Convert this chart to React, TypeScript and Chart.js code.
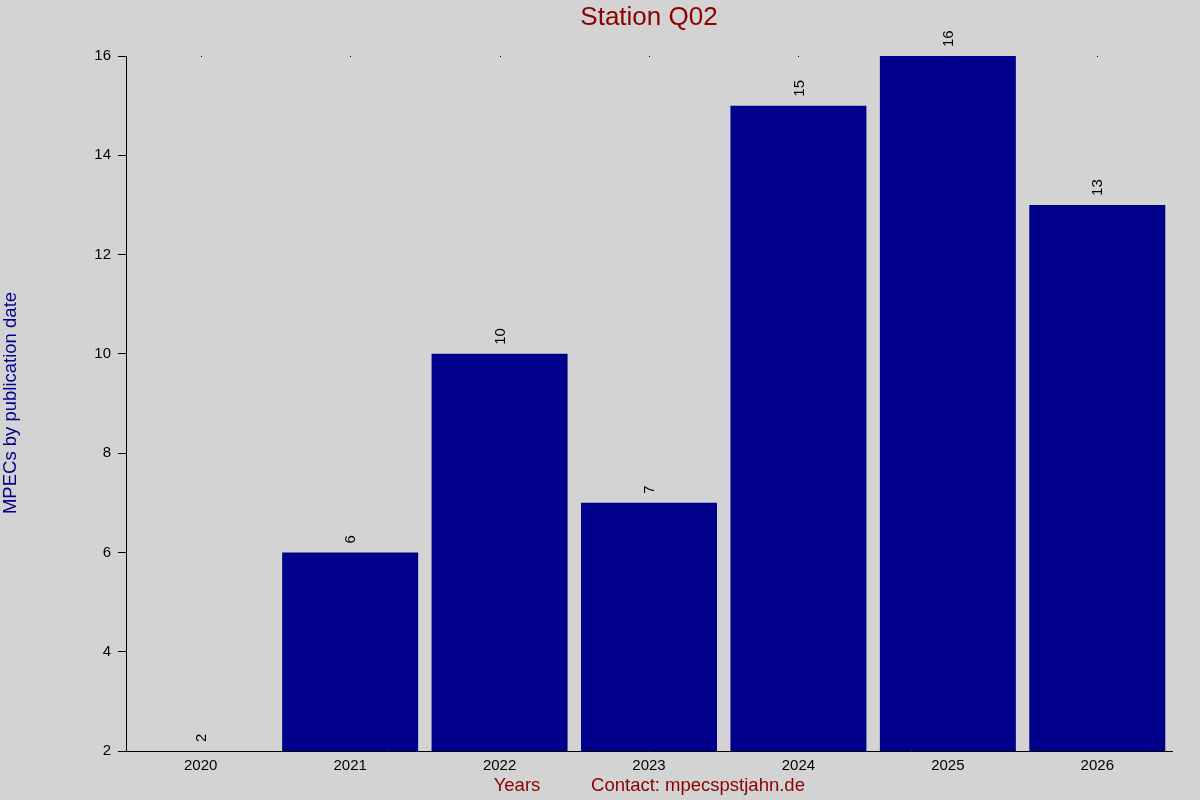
import { useEffect, useRef } from "react";
import { Chart, registerables } from "chart.js";

Chart.register(...registerables);

// values
const years = ["2020", "2021", "2022", "2023", "2024", "2025", "2026"];
const mpecCounts = [2, 6, 10, 7, 15, 16, 13];
const yTicks = [2, 4, 6, 8, 10, 12, 14, 16];

const FONT = "'Liberation Sans', Arial, sans-serif";

// text around the plot and labels over the bars
const decorPlugin = {
  id: "decor",
  afterDraw(chart: Chart) {
    const { ctx, chartArea } = chart;
    const x = chart.scales.x;
    const meta = chart.getDatasetMeta(0);
    const mid = (chartArea.left + chartArea.right) / 2;
    ctx.save();

    // small dots on top edge
    ctx.fillStyle = "#000";
    years.forEach((_, i) => {
      const px = Math.round(x.getPixelForTick(i));
      ctx.fillRect(px, chartArea.top, 1, 1);
    });

    // value labels, rotated
    ctx.font = `15px ${FONT}`;
    ctx.fillStyle = "#000";
    ctx.textAlign = "left";
    ctx.textBaseline = "middle";
    meta.data.forEach((bar: any, i) => {
      ctx.save();
      ctx.translate(bar.x + 1, bar.y - 9);
      ctx.rotate(-Math.PI / 2);
      ctx.fillText(String(mpecCounts[i]), 0, 0);
      ctx.restore();
    });

    // title
    ctx.fillStyle = "#8b0000";
    ctx.textAlign = "center";
    ctx.font = `26px ${FONT}`;
    ctx.fillText("Station Q02", mid, 18);

    // footer
    ctx.font = `18.5px ${FONT}`;
    ctx.fillText("Years", 517, 786);
    ctx.fillText("Contact: mpecspstjahn.de", 698, 786);

    // y axis title
    ctx.fillStyle = "#00008b";
    ctx.translate(11, 403);
    ctx.rotate(-Math.PI / 2);
    ctx.fillText("MPECs by publication date", 0, 0);
    ctx.restore();
  },
};

const bgPlugin = {
  id: "bg",
  beforeDraw(chart: Chart) {
    const { ctx, width, height } = chart;
    ctx.save();
    ctx.fillStyle = "#d3d3d3";
    ctx.fillRect(0, 0, width, height);
    ctx.restore();
  },
};

export default function App() {
  const canvasRef = useRef<HTMLCanvasElement | null>(null);

  useEffect(() => {
    document.body.style.margin = "0";
    if (!canvasRef.current) return;
    const chart = new Chart(canvasRef.current, {
      type: "bar",
      data: {
        labels: years,
        datasets: [
          {
            data: mpecCounts,
            backgroundColor: "#00008b",
            borderWidth: 0,
            barPercentage: 0.91,
            categoryPercentage: 1,
          },
        ],
      },
      options: {
        responsive: false,
        animation: false,
        layout: { padding: { top: 56, right: 28, bottom: 0, left: 0 } },
        plugins: {
          legend: { display: false },
          tooltip: { enabled: false },
        },
        scales: {
          x: {
            afterFit: (scale: any) => {
              scale.height = 49;
            },
            grid: { display: true, drawOnChartArea: false, drawTicks: false },
            border: { color: "#000", width: 1 },
            ticks: {
              color: "#000",
              padding: 6,
              font: { family: FONT, size: 15 },
            },
          },
          y: {
            min: 2,
            max: 16,
            afterFit: (scale: any) => {
              scale.width = 126;
            },
            afterBuildTicks: (scale: any) => {
              scale.ticks = yTicks.map((v) => ({ value: v }));
            },
            grid: {
              drawOnChartArea: false,
              drawTicks: true,
              tickLength: 8,
              color: "#000",
            },
            border: { color: "#000", width: 1 },
            ticks: {
              color: "#000",
              padding: 7,
              font: { family: FONT, size: 15 },
            },
          },
        },
      },
      plugins: [bgPlugin, decorPlugin],
    });
    return () => chart.destroy();
  }, []);

  return <canvas ref={canvasRef} width={1200} height={800} />;
}
